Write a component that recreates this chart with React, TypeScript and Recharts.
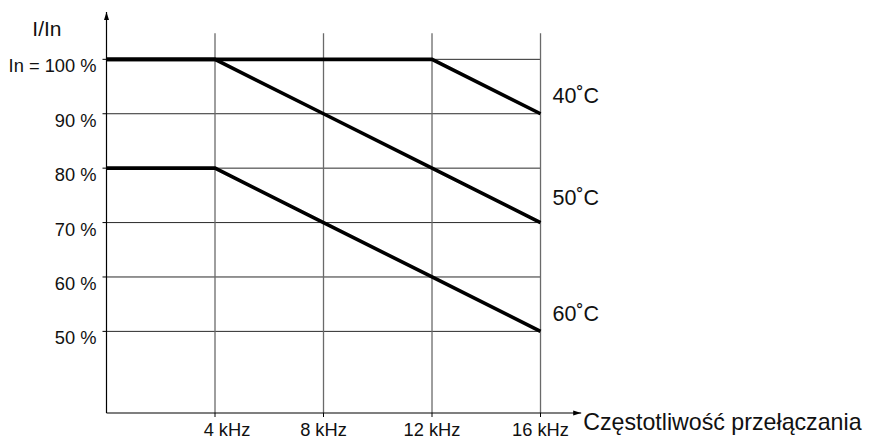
import React from 'react';
import { LineChart, Line, XAxis, YAxis, ReferenceLine, ReferenceDot } from 'recharts';

// switching frequency (kHz) and permitted current I/In (%) per ambient temperature
const freqKHz = [0, 4, 8, 12, 16];
const current40 = [100, 100, 100, 100, 90];
const current50 = [100, 100, 90, 80, 70];
const current60 = [80, 80, 70, 60, 50];

const xTicks = [4, 8, 12, 16];
const yTicks = [50, 60, 70, 80, 90, 100];
const tempLabels = ['40˚C', '50˚C', '60˚C'];
const tempLabelAt = [93.4, 74.7, 53.3];

const X_MAX = 17.5;
const Y_MIN = 35;
const Y_MAX = 108.7;
const GRID_TOP = 104.8;

const FONT = '"Liberation Sans", Arial, Helvetica, sans-serif';
const TEXT = '#111';

const data = freqKHz.map((f, i) => ({
    f,
    t40: current40[i],
    t50: current50[i],
    t60: current60[i]
}));

const YTick = ({ x, y, payload }: any) => (
    <text x={x} y={y} dy={13} textAnchor="end" fontSize={18.3} fontFamily={FONT} fill={TEXT}>
        {payload.value === 100 ? 'In = 100 %' : `${payload.value} %`}
    </text>
);

const XTick = ({ x, y, payload }: any) => (
    <text
        x={x + (payload.value === 4 ? 12 : 0)}
        y={y}
        dy={13}
        textAnchor="middle"
        fontSize={18.3}
        fontFamily={FONT}
        fill={TEXT}
    >
        {`${payload.value} kHz`}
    </text>
);

// arrow head at the end of the x axis, with the axis title beside it
const XArrow = ({ cx, cy }: any) => (
    <g>
        <path d={`M${cx},${cy} L${cx - 8},${cy - 2.5} L${cx - 8},${cy + 2.5} Z`} fill="#000" />
        <text x={cx + 2} y={cy + 9} dy="0.36em" fontSize={23.2} fontFamily={FONT} fill={TEXT}>
            Częstotliwość przełączania
        </text>
    </g>
);

const YArrow = ({ cx, cy }: any) => (
    <g>
        <path d={`M${cx},${cy} L${cx - 2.5},${cy + 8} L${cx + 2.5},${cy + 8} Z`} fill="#000" />
        <text x={cx - 45} y={cy + 16} dy="0.36em" textAnchor="end" fontSize={21} fontFamily={FONT} fill={TEXT}>
            I/In
        </text>
    </g>
);

export default function App() {
    return (
        <div style={{ position: 'absolute', left: 0, top: 0, background: '#fff' }}>
            <LineChart
                width={872}
                height={447}
                data={data}
                margin={{ top: 12, right: 290.8, bottom: 4, left: 0 }}
            >
                <XAxis
                    type="number"
                    dataKey="f"
                    domain={[0, X_MAX]}
                    ticks={xTicks}
                    tick={<XTick />}
                    tickSize={4}
                    tickMargin={6}
                    height={30}
                    axisLine={{ stroke: '#000', strokeWidth: 1.2 }}
                    tickLine={{ stroke: '#000' }}
                    allowDataOverflow
                />
                <YAxis
                    type="number"
                    domain={[Y_MIN, Y_MAX]}
                    ticks={yTicks}
                    tick={<YTick />}
                    tickSize={4}
                    tickMargin={6}
                    width={106.5}
                    axisLine={{ stroke: '#000', strokeWidth: 1.2 }}
                    tickLine={{ stroke: '#000' }}
                    allowDataOverflow
                />
                {/* grid drawn as segments so it stops at 16 kHz / above 100 % */}
                {yTicks.map(v => (
                    <ReferenceLine
                        key={`h${v}`}
                        segment={[{ x: 0, y: v }, { x: 16, y: v }]}
                        stroke="#2a2a2a"
                        strokeWidth={1}
                        ifOverflow="visible"
                    />
                ))}
                {xTicks.map(v => (
                    <ReferenceLine
                        key={`v${v}`}
                        segment={[{ x: v, y: Y_MIN }, { x: v, y: GRID_TOP }]}
                        stroke="#6a6a6a"
                        strokeWidth={1.3}
                        ifOverflow="visible"
                    />
                ))}
                <Line type="linear" dataKey="t40" stroke="#000" strokeWidth={3.6} dot={false} isAnimationActive={false} strokeLinejoin="miter" />
                <Line type="linear" dataKey="t50" stroke="#000" strokeWidth={3.6} dot={false} isAnimationActive={false} strokeLinejoin="miter" />
                <Line type="linear" dataKey="t60" stroke="#000" strokeWidth={3.6} dot={false} isAnimationActive={false} strokeLinejoin="miter" />
                {tempLabels.map((t, i) => (
                    <ReferenceDot
                        key={t}
                        x={16}
                        y={tempLabelAt[i]}
                        r={0}
                        ifOverflow="visible"
                        shape={(p: any) => (
                            <text x={p.cx + 12} y={p.cy} dy="0.36em" fontSize={21.5} fontFamily={FONT} fill={TEXT}>
                                {t}
                            </text>
                        )}
                    />
                ))}
                <ReferenceDot x={X_MAX} y={Y_MIN} r={0} ifOverflow="visible" shape={<XArrow />} />
                <ReferenceDot x={0} y={Y_MAX} r={0} ifOverflow="visible" shape={<YArrow />} />
            </LineChart>
        </div>
    );
}
